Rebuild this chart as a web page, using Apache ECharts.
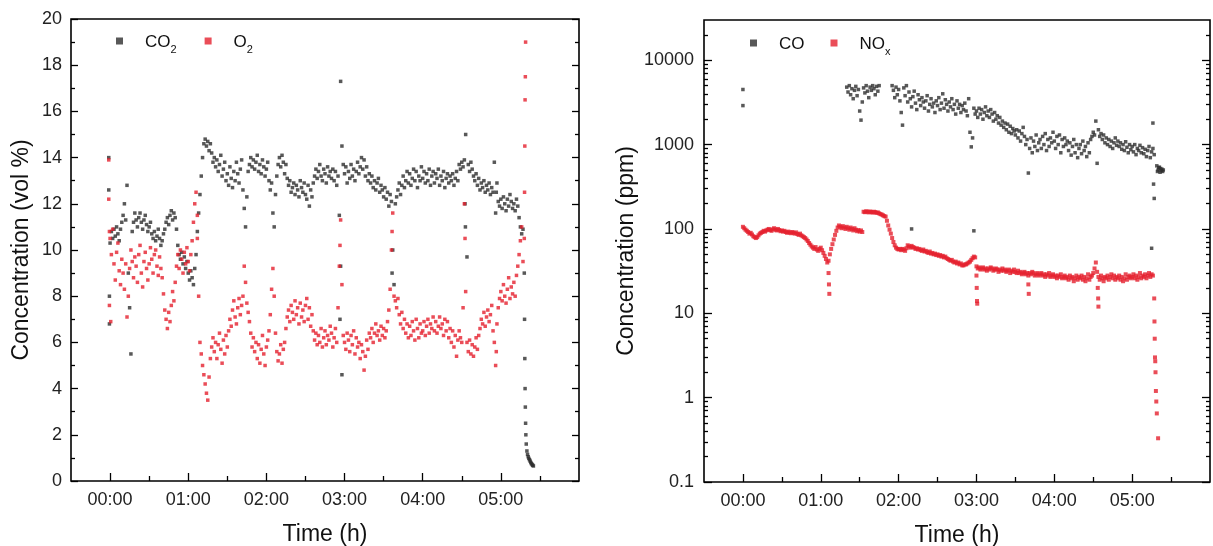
<!DOCTYPE html>
<html><head><meta charset="utf-8">
<script src="https://cdn.jsdelivr.net/npm/echarts@6/dist/echarts.min.js"></script>
<style>html,body{margin:0;padding:0;background:#fff}#c{width:1213px;height:546px}</style>
</head><body><div id="c"></div>
<script>
// ---- tick definitions (hours) ----
const HOUR_TICKS = [0, 1, 2, 3, 4, 5];
const HALF_TICKS = [0.5, 1.5, 2.5, 3.5, 4.5, 5.5];
const HOUR_LABELS = ['00:00', '01:00', '02:00', '03:00', '04:00', '05:00'];
const LOG_MAJOR = [0.1, 1, 10, 100, 1000, 10000];
const LOG_MINOR = [0.2,0.3,0.4,0.5,0.6,0.7,0.8,0.9,2,3,4,5,6,7,8,9,20,30,40,50,60,70,80,90,
  200,300,400,500,600,700,800,900,2000,3000,4000,5000,6000,7000,8000,9000,20000];

// ---- CO2 (vol %), one reading per minute from minute 0 ----
const CO2_START = 0;
const CO2 = [
10.3,10.8,10.5,10.9,10.6,11.0,10.7,10.4,10.9,11.2,
11.5,12.0,11.3,12.8,9.0,7.5,5.5,10.8,11.2,11.6,
11.3,11.0,11.4,11.6,11.2,10.9,11.3,11.5,11.1,10.8,
11.0,11.2,10.7,10.5,10.8,10.4,10.6,10.9,10.5,10.2,
10.4,10.7,10.9,11.2,11.4,11.1,11.5,11.7,11.3,11.6,
11.4,10.9,10.2,9.8,9.6,9.9,9.4,9.7,9.2,9.5,
9.0,8.7,9.1,8.8,8.5,9.2,9.8,10.8,11.6,12.4,
13.2,14.0,14.6,14.8,14.5,14.7,14.3,14.6,14.2,13.8,
14.0,13.6,13.9,13.4,13.7,14.1,13.2,13.5,13.8,13.0,
13.3,12.8,13.6,13.1,12.7,13.4,13.0,13.8,13.3,12.9,
13.5,13.9,12.6,11.8,11.0,12.3,13.4,13.7,14.0,13.6,
13.9,13.5,13.8,14.1,13.4,13.7,13.3,13.9,13.6,13.2,
13.5,13.8,13.0,12.6,12.9,11.6,11.0,12.4,13.2,13.7,
14.0,13.6,14.1,13.8,13.3,13.7,13.1,12.8,13.0,12.5,
12.7,12.9,12.4,12.8,12.6,12.3,13.0,12.7,12.5,12.9,
12.4,12.2,12.8,11.9,12.6,12.3,12.9,13.2,13.5,13.1,
13.4,13.7,13.2,13.0,13.5,13.3,12.9,13.6,13.2,13.4,
13.1,13.5,13.0,13.4,12.8,13.2,11.5,9.3,4.6,13.7,
13.3,13.6,12.9,13.4,13.1,13.7,13.2,13.5,13.0,13.4,
13.8,13.3,13.6,14.0,13.5,13.9,13.2,13.6,13.0,13.3,
12.9,13.2,12.7,13.0,12.6,12.9,13.1,12.5,12.8,12.6,
12.3,12.7,12.2,12.5,11.9,12.4,12.1,10.0,8.5,12.0,
12.3,12.6,12.9,12.4,12.8,13.2,12.7,13.0,13.4,12.9,
13.3,12.8,13.1,13.5,13.0,13.4,12.7,13.2,13.0,13.6,
13.1,13.4,12.9,13.3,13.0,13.5,12.8,13.2,13.4,12.9,
13.3,13.1,13.5,12.8,13.2,13.0,13.4,12.7,13.1,13.3,
12.9,13.2,13.0,13.3,12.8,13.1,13.4,13.0,13.7,13.5,
13.8,13.6,13.9,15.0,9.7,13.7,13.4,13.8,13.5,13.2,
13.0,13.3,12.8,13.1,12.6,12.9,12.7,13.0,12.5,12.8,
12.6,12.9,12.4,12.7,12.5,13.8,11.6,12.9,12.1,11.9,
12.2,11.8,12.3,12.0,11.7,12.2,11.9,12.4,12.1,11.8,
12.0,11.7,12.2,11.9,11.4,11.0,10.7,10.9
];
// extra CO2 readings [minute, value]: start/outliers and the shut-down tail
const CO2_EXTRA = [[-1,14.0],[-1,12.6],[-0.5,8.0],[-0.5,6.8],[177,17.3],[178,14.5],[176.5,7.0],[216.5,9.0],
  [272.5,12.0],[272.8,11.0],[296.5,12.5],
  [318,9.0],[318.2,7.0],[318.4,5.3],[318.6,4.0],[318.8,3.2],[319,2.5],[319.2,2.0],[319.5,1.6],
  [320,1.3],[320.5,1.15],[321,1.05],[321.5,0.98],[322,0.92],[322.5,0.86],[323,0.8],[323.5,0.75],
  [324,0.71],[324.5,0.68],[325,0.65]];

// ---- O2 (vol %), one reading per minute from minute 0 ----
const O2_START = 0;
const O2 = [
10.5,9.8,10.9,9.4,8.7,9.9,10.3,9.1,8.5,9.6,
9.0,8.3,9.4,7.1,8.0,9.2,10.0,9.5,8.8,9.7,
9.3,8.6,9.8,10.2,9.0,8.4,9.5,9.9,9.2,8.7,
9.4,10.1,9.6,9.0,9.8,10.0,9.3,8.9,9.7,9.2,
8.8,8.1,7.4,7.0,6.6,7.3,6.9,7.6,8.2,7.8,
8.6,9.3,9.8,9.2,10.0,9.6,9.0,9.9,9.4,10.1,
9.5,9.1,9.8,10.4,11.2,12.0,12.5,10.5,8.0,6.0,
5.5,5.0,4.6,4.2,3.8,3.5,4.5,5.3,5.8,6.2,
5.6,6.0,5.3,5.9,6.4,5.7,5.1,6.1,5.5,6.3,
5.8,6.5,7.0,6.7,7.4,7.8,7.1,6.8,7.5,7.9,
7.2,7.6,8.0,9.3,8.6,7.7,7.3,6.9,6.4,5.8,
6.2,5.6,6.0,5.3,5.9,5.1,5.7,6.3,5.5,5.0,
5.8,6.1,6.5,7.2,8.3,9.2,8.0,6.4,5.6,5.2,
5.5,5.9,5.1,5.7,6.0,6.6,7.1,7.4,6.9,7.6,
7.3,7.0,7.8,7.2,7.5,6.8,7.7,7.1,7.4,6.9,
7.6,7.9,7.0,7.5,6.7,7.2,6.5,6.1,6.4,5.9,
6.3,6.0,6.6,5.8,6.2,6.5,5.9,6.3,6.1,6.7,
6.4,5.8,6.2,6.6,6.0,7.5,9.3,11.3,8.5,6.3,
6.0,5.7,6.4,6.1,5.6,6.3,5.9,6.5,5.5,6.2,
5.8,6.0,5.3,5.9,5.6,4.8,5.4,6.1,5.7,6.4,
6.2,6.6,6.0,6.4,6.8,6.3,6.5,6.1,6.7,6.3,
6.6,6.2,6.5,6.9,7.4,8.3,10.0,11.6,8.0,7.8,
7.5,7.9,7.2,6.8,7.3,6.6,7.0,6.4,6.8,6.2,
6.7,6.3,6.9,6.5,6.1,7.0,6.6,6.2,6.8,6.4,
6.5,6.9,6.3,6.7,7.0,6.4,6.8,6.6,7.1,6.5,
6.9,6.4,6.7,7.1,6.6,6.8,6.3,7.0,6.5,6.9,
6.2,6.6,6.0,6.5,5.8,6.3,5.4,6.1,6.5,6.2,
6.0,7.5,12.0,8.2,6.0,5.6,6.1,5.5,5.9,5.4,
5.8,6.2,5.7,6.3,6.6,7.0,6.8,7.3,6.7,7.1,
7.4,6.9,7.2,7.6,6.5,6.0,5.0,6.8,7.5,7.9,
8.2,7.8,8.5,8.0,7.7,8.3,8.8,7.9,8.4,8.1,
8.6,8.0,8.9,9.3,9.8,10.4,11.0,9.5
];
const O2_EXTRA = [[-1,13.9],[-1,12.2],[-0.5,10.8],[-0.5,7.6],[0.5,6.9],[67,11.5],[176.5,10.2],[216.5,10.8],
  [272.5,10.5],[296.5,5.6],
  [318,10.5],[318.2,12.5],[318.4,14.5],[318.6,16.5],[318.8,17.5],[319,19.0],[319.3,20.5],[320,20.9]];

// ---- CO (ppm), one reading per minute from minute 80 (null = no reading) ----
const CO_START = 80;
const CO = [
4800,4200,5000,3900,4600,3500,4400,4900,3800,4500,
2500,1950,3200,4700,4100,5000,4300,3600,4800,4400,
5000,4600,3900,4900,4300,5000,null,null,null,null,
null,null,null,null,null,5000,4400,3600,4800,3900,
4500,3300,2400,1700,4700,3800,5000,3200,4200,3500,
2800,3700,4300,3100,2600,3900,3400,2900,3600,3200,
2700,3300,3800,2500,3000,3500,2800,3100,2400,3300,
2900,3600,2600,3100,4000,2700,3400,3000,2500,3200,
2800,3500,2600,3000,2300,3300,2700,3000,2400,2900,
2600,3100,2500,2200,3500,1400,940,1200,2700,2300,
2500,2100,2700,2300,2600,2000,2400,2800,2200,2500,
2100,2600,2300,1900,2400,2000,2200,1800,2100,1700,
1900,1600,1800,1500,1750,1400,1650,1350,1550,1450,
1300,1500,1200,1450,1100,1350,1600,1250,1000,1150,
460,900,1200,800,1100,950,1300,850,1050,1150,
900,1250,1000,1350,850,1150,950,1200,1050,1400,
1100,900,1250,1000,1300,800,1150,950,1200,1000,
1100,850,1050,750,950,1150,800,1000,700,900,
1000,780,1100,850,950,720,1050,800,1150,1250,
1400,1300,1900,600,1500,1250,1350,1150,1300,1050,
1200,1000,1150,950,1100,900,1050,1200,980,1100,
950,1050,880,1000,850,1080,930,800,1000,870,
950,820,1000,760,900,850,980,800,920,780,
880,720,850,950,700,820,900,760
];
const CO_EXTRA = [[0,4500],[0,2900],[130,100],[178,95],[315,59],[316,1800],[316.5,340],[317,230],
  [319,560],[319.5,480],[320,500],[320.5,530],[321,540],[321.5,470],[322,520],[322.5,490],[323,510],[323.5,480],[324,500]];

// ---- NOx (ppm), one reading per minute from minute 0 ----
const NOX_START = 0;
const NOX = [
106,102,98,95,92,88,90,86,82,80,
78,80,84,88,90,92,95,93,96,98,
100,97,95,99,102,98,96,100,97,94,
96,93,95,92,90,93,91,89,92,90,
88,91,87,85,88,84,82,80,78,75,
72,68,65,62,60,58,61,57,55,58,
60,56,52,48,44,40,42,50,58,66,
75,85,95,104,110,106,102,108,104,100,
106,102,98,104,100,96,102,98,94,97,
93,96,92,160,158,162,160,157,161,159,
156,160,158,155,157,153,150,148,145,142,
140,125,110,98,88,78,70,64,60,58,
57,58,56,58,57,55,59,64,62,60,
63,61,60,58,59,57,58,56,55,57,
54,55,53,52,54,51,52,50,51,49,
50,48,49,47,48,46,47,45,44,43,
42,43,41,40,41,39,40,38,39,37,
37,38,38,39,40,41,43,45,47,46,
36,34,35,33,34,35,33,34,32,34,
33,35,34,32,33,34,33,31,33,32,
34,32,33,31,32,33,30,32,31,33,
31,30,32,30,31,29,30,31,29,30,
28,30,29,31,30,28,29,30,28,29,
30,28,29,27,29,28,30,27,28,29,
27,28,26,28,27,29,26,27,28,26,
27,25,28,26,27,24,26,28,25,27,
26,28,25,27,24,26,29,25,27,28,
30,34,40,31,27,25,28,26,24,27,
26,28,25,27,29,26,28,25,27,26,
28,25,27,24,26,29,25,27,28,26,
27,29,26,28,25,27,30,26,28,27,
29,26,28,30,27,29,28
];
const NOX_EXTRA = [[66,30],[66.3,22],[66.6,17],[180,28],[180.2,20],[180.4,14],[180.6,13],
  [220,22],[220.3,17],[273.5,20],[273.8,15],[274,12],
  [317,15],[317.2,8],[317.4,5],[317.6,3],[317.8,2.7],[318,2],[318.3,1.2],[318.6,0.9],[319,0.65],[320,0.33]];

// ---- build [hour, value] pairs ----
function series(start, vals, extra) {
  const out = [];
  vals.forEach((v, i) => { if (v !== null) out.push([(start + i) / 60, v]); });
  extra.forEach(p => out.push([p[0] / 60, p[1]]));
  return out;
}

const FONT = 'Liberation Sans, Arial, Helvetica, sans-serif';
const DARK = '#2e2e2e';
const RED = '#e5202e';
const rich = {
  g: { width: 17 },
  a: { fontSize: 17, fontFamily: FONT, color: '#111', verticalAlign: 'bottom', lineHeight: 20 },
  s: { fontSize: 11, fontFamily: FONT, color: '#111', verticalAlign: 'bottom', lineHeight: 13, padding: [0, 0, -4, 0] }
};
const LEG_TEXT = { CO2: '{g|}{a|CO}{s|2}', O2: '{g|}{a|O}{s|2}', CO: '{g|}{a|CO}', NOx: '{g|}{a|NO}{s|x}' };
const tickStyle = { color: '#000', width: 1.3 };

function xAxes(g) {
  return [{
    gridIndex: g, type: 'value', min: -0.5, max: 6, position: 'bottom',
    axisLine: { show: false, onZero: false }, splitLine: { show: false },
    axisTick: { show: true, inside: true, length: 8, customValues: HOUR_TICKS, lineStyle: tickStyle },
    axisLabel: { show: true, customValues: HOUR_TICKS, margin: 10, fontSize: 18, fontFamily: FONT, color: '#222',
      formatter: v => { const k = HOUR_TICKS.indexOf(v); return k >= 0 ? HOUR_LABELS[k] : ''; } },
    name: 'Time (h)', nameLocation: 'middle', nameGap: 42,
    nameTextStyle: { fontSize: 23, fontFamily: FONT, color: '#111' }
  }, {
    gridIndex: g, type: 'value', min: -0.5, max: 6, position: 'bottom',
    axisLine: { show: false, onZero: false }, splitLine: { show: false }, axisLabel: { show: false },
    axisTick: { show: true, inside: true, length: 5, customValues: HALF_TICKS, lineStyle: tickStyle }
  }];
}

const linY = (pos, labels) => ({
  gridIndex: 0, type: 'value', min: 0, max: 20, interval: 2, position: pos,
  axisLine: { show: false, onZero: false }, splitLine: { show: false },
  axisTick: { show: true, inside: true, length: 7, lineStyle: tickStyle },
  minorTick: { show: true, splitNumber: 2, length: 4, lineStyle: tickStyle },
  axisLabel: { show: labels, margin: 9, fontSize: 18, fontFamily: FONT, color: '#222' },
  name: labels ? 'Concentration (vol %)' : '', nameLocation: 'middle', nameGap: 38,
  nameTextStyle: { fontSize: 23, fontFamily: FONT, color: '#111' }
});
const logY = (pos, labels, minor) => ({
  gridIndex: 1, type: 'log', logBase: 10, min: 0.1, max: 30000, position: pos,
  axisLine: { show: false, onZero: false }, splitLine: { show: false },
  axisTick: minor
    ? { show: true, inside: true, length: 4, customValues: LOG_MINOR, lineStyle: tickStyle }
    : { show: true, inside: true, length: 8, customValues: LOG_MAJOR, lineStyle: tickStyle },
  axisLabel: { show: labels, customValues: LOG_MAJOR, margin: 10, fontSize: 18, fontFamily: FONT, color: '#222',
    formatter: v => String(v) },
  name: labels ? 'Concentration (ppm)' : '', nameLocation: 'middle', nameGap: 66,
  nameTextStyle: { fontSize: 23, fontFamily: FONT, color: '#111' }
});

const chart = echarts.init(document.getElementById('c'), null, { renderer: 'canvas' });
chart.setOption({
  animation: false,
  backgroundColor: '#fff',
  grid: [
    { left: 71, top: 19, width: 508, height: 462, outerBoundsMode: 'none', containLabel: false,
      show: true, borderColor: '#000', borderWidth: 1.6, backgroundColor: 'transparent' },
    { left: 704, top: 20, width: 506, height: 462, outerBoundsMode: 'none', containLabel: false,
      show: true, borderColor: '#000', borderWidth: 1.6, backgroundColor: 'transparent' }
  ],
  xAxis: [...xAxes(0), ...xAxes(1)],
  yAxis: [linY('left', true), linY('right', false),
          logY('left', true, false), logY('left', false, true), logY('right', false, false), logY('right', false, true)],
  legend: [
    { data: ['CO2', 'O2'], left: 111, top: 29, icon: 'rect', itemWidth: 7, itemHeight: 7, itemGap: 28,
      selectedMode: false, formatter: n => LEG_TEXT[n], textStyle: { rich } },
    { data: ['CO', 'NOx'], left: 745, top: 31, icon: 'rect', itemWidth: 7, itemHeight: 7, itemGap: 26,
      selectedMode: false, formatter: n => LEG_TEXT[n], textStyle: { rich } }
  ],
  series: [
    { name: 'CO2', type: 'scatter', xAxisIndex: 0, yAxisIndex: 0, symbol: 'rect', symbolSize: 3.5,
      itemStyle: { color: DARK }, data: series(CO2_START, CO2, CO2_EXTRA) },
    { name: 'O2', type: 'scatter', xAxisIndex: 0, yAxisIndex: 0, symbol: 'rect', symbolSize: 3.5,
      itemStyle: { color: RED }, data: series(O2_START, O2, O2_EXTRA) },
    { name: 'CO', type: 'scatter', xAxisIndex: 2, yAxisIndex: 2, symbol: 'rect', symbolSize: 3.5,
      itemStyle: { color: DARK }, data: series(CO_START, CO, CO_EXTRA) },
    { name: 'NOx', type: 'scatter', xAxisIndex: 2, yAxisIndex: 2, symbol: 'rect', symbolSize: 4,
      itemStyle: { color: RED }, data: series(NOX_START, NOX, NOX_EXTRA) }
  ]
});
</script></body></html>
